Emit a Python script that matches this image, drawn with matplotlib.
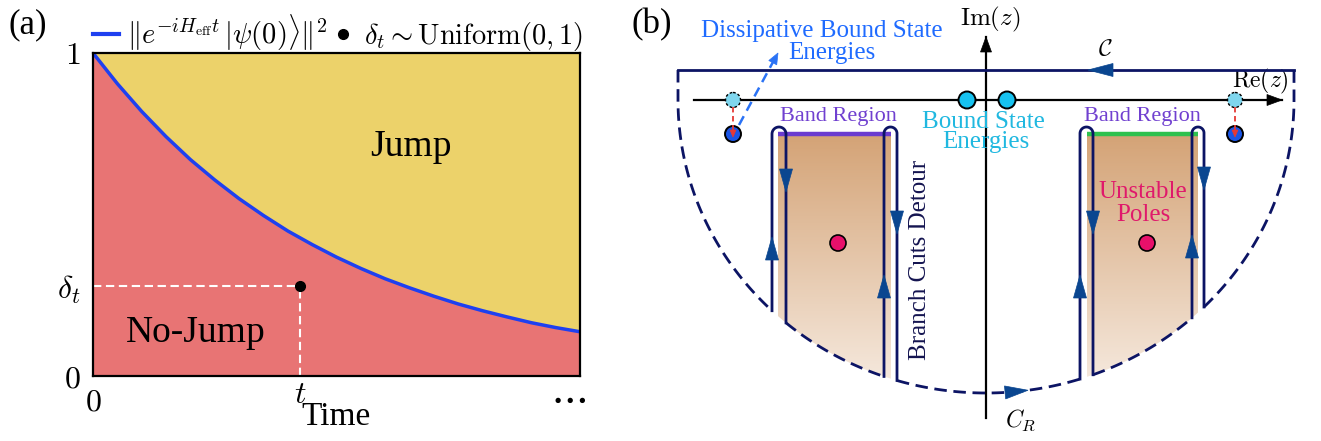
import numpy as np
import matplotlib
matplotlib.use('Agg')
import matplotlib.pyplot as plt
from matplotlib.patches import Circle, Polygon
from matplotlib.lines import Line2D

plt.rcParams['font.family'] = ['Liberation Serif', 'DejaVu Serif']
plt.rcParams['mathtext.fontset'] = 'cm'

# ---------------- panel (a) data ----------------
time_pts = [0.00, 0.05, 0.10, 0.15, 0.20, 0.25, 0.30, 0.35, 0.40, 0.45, 0.50,
            0.55, 0.60, 0.65, 0.70, 0.75, 0.80, 0.85, 0.90, 0.95, 1.00]
survival = [1.000, 0.905, 0.819, 0.741, 0.670, 0.607, 0.549, 0.497, 0.449, 0.407, 0.368,
            0.333, 0.301, 0.273, 0.247, 0.223, 0.202, 0.183, 0.165, 0.150, 0.137]
t_jump = 0.425
delta_t = 0.278
x_tick_pos = [0.0, t_jump]
x_tick_labels = [r'$0$', r'$t$']
x_more_label = r'$\cdots$'
y_tick_pos = [0.0, delta_t, 1.0]
y_tick_labels = [r'$0$', r'$\delta_t$', r'$1$']
legend_labels = [r'$\|e^{-iH_{\mathrm{eff}}t}\,|\psi(0)\rangle\|^2$',
                 r'$\delta_t\sim\mathrm{Uniform}(0,1)$']

# ---------------- panel (b) diagram geometry (pixel-like units) ----------------
origin_xy = (986, 100)
contour_top = 70
arc_ab = (308, 293)
re_axis_x = [694, 1282]
im_axis_y = [418, 37]
band_x = [[778, 891], [1087, 1198]]
band_top = 134
band_colors = ['#6a3bd0', '#2ec14e']
detour_pairs = [[772, 786], [884, 897], [1080, 1093], [1192, 1204]]
detour_top = 127
detour_arrows = [(772, 237, -1), (786, 192, 1), (884, 275, -1), (897, 234, 1),
                 (1080, 275, -1), (1093, 234, 1), (1192, 235, -1), (1204, 190, 1)]
bound_state_x = [967, 1007]
dissip_x = [733, 1235]
dissip_y = [100, 134]
pole_x = [838, 1147]
pole_y = 243

# colours
YELLOW = '#ecd26a'
RED = '#e87474'
BLUE = '#1e40f0'
NAVY = '#0c1464'
ARROW = '#0a4690'
CYAN = '#16c2f0'

W, H = 1321, 441
fig = plt.figure(figsize=(W / 100, H / 100), dpi=100)

# ================= panel (a) =================
ax = fig.add_axes([93 / W, (H - 376) / H, 487 / W, 323 / H])
t = np.array(time_pts)
s = np.array(survival)
ax.fill_between(t, s, 1.0, color=YELLOW, lw=0)
ax.fill_between(t, 0.0, s, color=RED, lw=0)
ax.plot(t, s, color=BLUE, lw=2.5, solid_capstyle='butt')
ax.plot([0, t_jump], [delta_t, delta_t], color='white', lw=1.5, ls=(0, (4, 2.2)))
ax.plot([t_jump, t_jump], [0, delta_t], color='white', lw=1.5, ls=(0, (4, 2.2)))
ax.plot([t_jump], [delta_t], 'o', color='black', ms=7, zorder=5)
ax.set_xlim(0, 1)
ax.set_ylim(0, 1)
ax.set_xticks(x_tick_pos)
ax.set_xticklabels(x_tick_labels, fontsize=23)
ax.set_yticks(y_tick_pos)
ax.set_yticklabels(y_tick_labels, fontsize=23)
ax.tick_params(axis='both', length=0)
ax.tick_params(axis='x', pad=9)
ax.tick_params(axis='y', pad=9)
ax.get_xticklabels()[1].set_y(0.024)
for sp in ax.spines.values():
    sp.set_linewidth(1.6)
ax.text(0.975, -0.074, x_more_label, fontsize=30, ha='center', va='center',
        transform=ax.transAxes)
ax.set_xlabel('Time', fontsize=24)
ax.xaxis.set_label_coords(0.5, -0.08)
ax.text(0.653, 0.71, 'Jump', fontsize=27, ha='center', va='center')
ax.text(0.21, 0.134, 'No-Jump', fontsize=27, ha='center', va='center')
h1 = Line2D([], [], color=BLUE, lw=3)
h2 = Line2D([], [], color='black', marker='o', ls='none', ms=7)
ax.legend([h1, h2], legend_labels, loc='lower left', bbox_to_anchor=(0.0, 1.0),
          ncol=2, frameon=False, fontsize=20.5, handlelength=0.9, handletextpad=0.3,
          columnspacing=0.1, borderpad=0, borderaxespad=0)

fig.text(28 / W, 1 - 25 / H, '(a)', fontsize=25, ha='center', va='center')
fig.text(652 / W, 1 - 25 / H, '(b)', fontsize=25, ha='center', va='center')

# ================= panel (b) =================
bx = fig.add_axes([620 / W, 0, (W - 620) / W, 1])
bx.set_xlim(620, W)
bx.set_ylim(H, 0)
bx.axis('off')

cx, cy = origin_xy
a, b = arc_ab


def arc_y(x):
    return cy + b * np.sqrt(max(0.0, 1 - ((x - cx) / a) ** 2))


def arc_pts(x0, x1, n=120):
    th0 = np.arccos(np.clip((x0 - cx) / a, -1, 1))
    th1 = np.arccos(np.clip((x1 - cx) / a, -1, 1))
    th = np.linspace(th0, th1, n)
    return cx + a * np.cos(th), cy + b * np.sin(th)


def tri(x_tip, y_tip, dx, dy, length, width, color, z=6):
    d = np.array([dx, dy], float)
    d /= np.linalg.norm(d)
    p = np.array([-d[1], d[0]])
    tip = np.array([x_tip, y_tip])
    base = tip - d * length
    pts = [tip, base + p * width / 2, base - p * width / 2]
    bx.add_patch(Polygon(pts, closed=True, fc=color, ec=color, lw=0.5, zorder=z))


# band shading with gradient clipped by the arc
top_rgb = np.array([212, 163, 118]) / 255
bot_rgb = np.array([247, 236, 226]) / 255
grad = np.linspace(0, 1, 256)[:, None, None]
grad_img = top_rgb * (1 - grad) + bot_rgb * grad
ex, ey = arc_pts(cx - a, cx + a, 300)
clip_poly_pts = np.column_stack([np.r_[ex, cx + a, cx - a], np.r_[ey, cy - 40, cy - 40]])
for (x0, x1), col in zip(band_x, band_colors):
    im = bx.imshow(grad_img, extent=(x0, x1, cy + b, band_top), origin='upper',
                   aspect='auto', zorder=1, interpolation='bilinear')
    clip = Polygon(clip_poly_pts, closed=True, transform=bx.transData, fc='none', ec='none')
    bx.add_patch(clip)
    im.set_clip_path(clip)
    bx.plot([x0, x1], [band_top, band_top], color=col, lw=3.2, solid_capstyle='butt', zorder=3)

# axes
bx.plot(re_axis_x, [cy, cy], color='black', lw=1.6, zorder=4)
tri(re_axis_x[1], cy, 1, 0, 15, 11, 'black')
bx.plot([cx, cx], im_axis_y, color='black', lw=1.6, zorder=4)
tri(cx, im_axis_y[1], 0, -1, 15, 11, 'black')

# contour: top line
bx.plot([cx - a, cx + a], [contour_top, contour_top], color=NAVY, lw=2.0, zorder=5)
tri(1088, contour_top, -1, 0, 25, 13, ARROW)

# dashed arc pieces
dash = (0, (4.5, 2.4))
xs_edges = [cx - a] + [v for pair in detour_pairs for v in pair] + [cx + a]
for i in range(0, len(xs_edges), 2):
    px, py = arc_pts(xs_edges[i], xs_edges[i + 1])
    if i == 0:
        px = np.r_[cx - a, px]
        py = np.r_[contour_top, py]
    if i + 2 == len(xs_edges):
        px = np.r_[px, cx + a]
        py = np.r_[py, contour_top]
    bx.plot(px, py, color=NAVY, lw=2.0, ls=dash, zorder=5)

# branch-cut detours
for x1, x2 in detour_pairs:
    r = (x2 - x1) / 2
    xc = (x1 + x2) / 2
    th = np.linspace(np.pi, 0, 40)
    ux = xc + r * np.cos(th)
    uy = detour_top + r - r * np.sin(th)
    px = np.r_[x1, ux, x2]
    py = np.r_[arc_y(x1), uy, arc_y(x2)]
    bx.plot(px, py, color=NAVY, lw=2.0, zorder=5, solid_joinstyle='round')
for x, ytip, d in detour_arrows:
    tri(x, ytip, 0, d, 23, 13, ARROW)

# bottom arrow along the arc
xb0, xb1 = 1005, 1028
tri(xb1, arc_y(xb1), xb1 - xb0, arc_y(xb1) - arc_y(xb0), 23, 13, ARROW)

# bound states
for x in bound_state_x:
    bx.add_patch(Circle((x, cy), 8.5, fc=CYAN, ec='black', lw=1.4, zorder=7))

# dissipative bound states
for x in dissip_x:
    bx.add_patch(Circle((x, dissip_y[0]), 7.5, fc='#7fd6ee', ec='black', lw=1.0,
                        ls=(0, (2, 1.5)), zorder=7))
    bx.plot([x, x], [dissip_y[0] + 7, dissip_y[1] - 2], color='#e53935', lw=1.3,
            ls=(0, (3, 2)), zorder=8)
    bx.add_patch(Circle((x, dissip_y[1]), 8, fc='#1a55e6', ec='black', lw=1.4, zorder=7))
    tri(x, dissip_y[1] + 3, 0, 1, 7, 6, '#e53935', z=9)

# pointer arrow to the label
bx.plot([739, 773], [125, 62], color='#2a72f5', lw=1.8, ls=(0, (4, 2.5)), zorder=8)
tri(778, 53, 778 - 739, 53 - 125, 11, 9, '#2a72f5', z=8)

# poles
for x in pole_x:
    bx.add_patch(Circle((x, pole_y), 8, fc='#e8106a', ec='black', lw=1.2, zorder=7))

# texts
bx.text(822, 31, 'Dissipative Bound State', fontsize=18, color='#1f6bff', ha='center', va='center')
bx.text(832, 53, 'Energies', fontsize=18, color='#1f6bff', ha='center', va='center')
bx.text(990, 19, r'$\mathrm{Im}(z)$', fontsize=18, ha='center', va='center')
bx.text(1260, 81, r'$\mathrm{Re}(z)$', fontsize=17, ha='center', va='center')
bx.text(1105, 50, r'$\mathcal{C}$', fontsize=17, ha='center', va='center')
bx.text(1021, 420, r'$C_R$', fontsize=17, ha='center', va='center')
for xc_ in [838, 1142]:
    bx.text(xc_, 117, 'Band Region', fontsize=16, color='#7040d0', ha='center', va='center')
bx.text(983, 122, 'Bound State', fontsize=18, color='#20b8e0', ha='center', va='center',
        zorder=10)
bx.text(986, 142, 'Energies', fontsize=18, color='#20b8e0', ha='center', va='center',
        zorder=10)
bx.text(1143, 192, 'Unstable', fontsize=18, color='#e0196b', ha='center', va='center')
bx.text(1143, 215, 'Poles', fontsize=18, color='#e0196b', ha='center', va='center')
bx.text(920, 260, 'Branch Cuts Detour', fontsize=18, color='#141450', rotation=90,
        ha='center', va='center')

fig.savefig('out.png', dpi=100)
